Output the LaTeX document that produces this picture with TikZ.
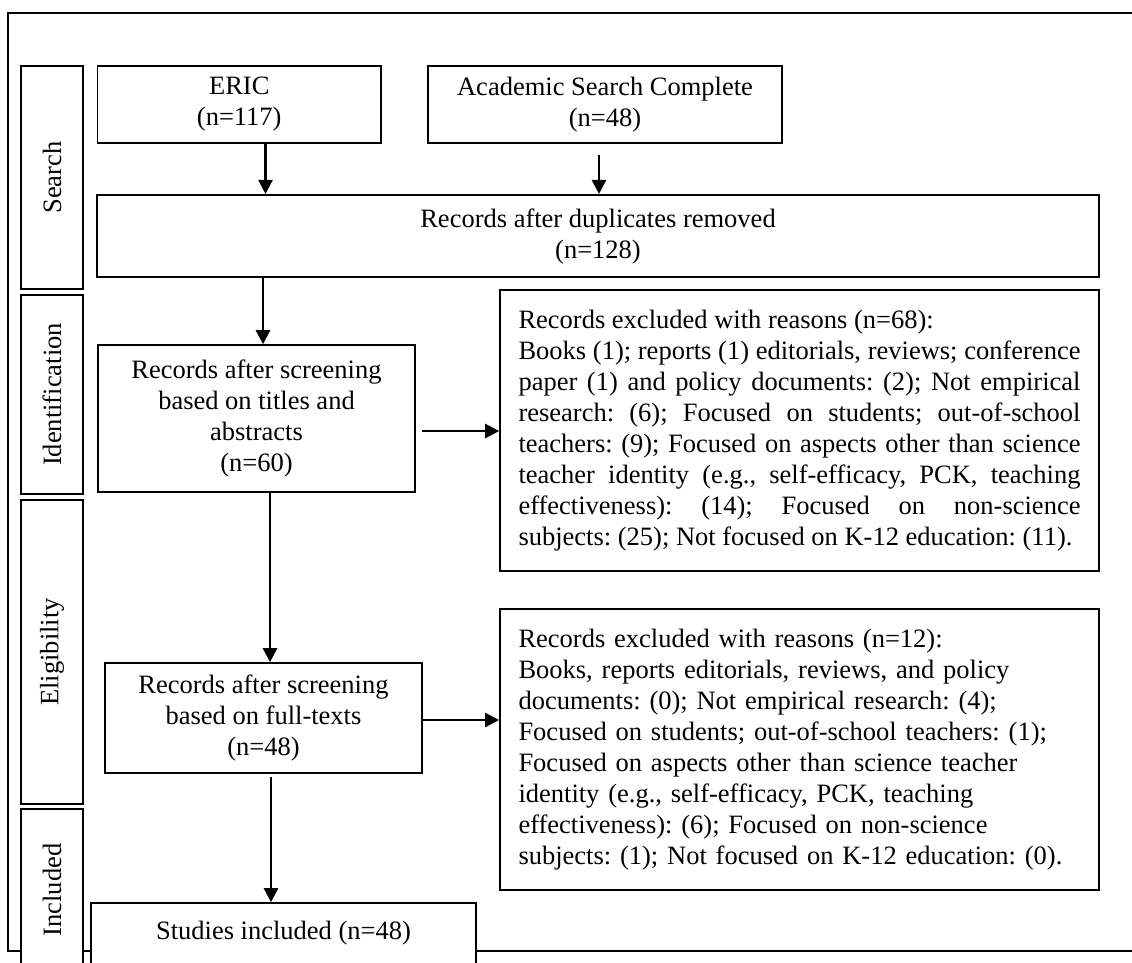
\documentclass[tikz,border=0pt]{standalone}
\usepackage{fontspec}
\setmainfont{Liberation Serif}
\usepackage{tikz}
\usetikzlibrary{arrows.meta,positioning,calc}

\newcommand\flowfont{\fontsize{26.5}{31}\selectfont}
\hyphenpenalty=10000
\exhyphenpenalty=10000
\frenchspacing

\tikzset{
  frame/.style={line width=1.8pt},
  stage/.style={draw, line width=1.2pt, fill=white, rotate=90, inner sep=0pt, minimum height=62pt, font=\flowfont},
  box/.style={draw, line width=1.6pt, fill=white, align=center, inner sep=0pt, font=\flowfont},
  note/.style={box, text width=562pt},
  arr/.style={-{Triangle[length=14pt,width=14pt]}, line width=2.4pt},
}

\begin{document}
\begin{tikzpicture}[x=1pt, y=-1pt]
\useasboundingbox (0,0) rectangle (1132,962);
\clip (0,0) rectangle (1132,962);

% outer frame
\draw[frame] (1140,13) -- (8,13) -- (8,951) -- (1140,951);

% stages
\node[stage, minimum width=223pt] (search) at (52,177.5) {Search};
\node[stage, minimum width=199pt] (ident) at (52,394.5) {Identification};
\node[stage, minimum width=304pt] (elig) at (52,652) {Eligibility};
\node[stage, minimum width=162pt] (incl) at (52,890) {Included};

% flow boxes
\node[box, minimum width=283.5pt, minimum height=77pt] (eric) at (239.25,104.5) {ERIC\\(n=117)};
\node[box, minimum width=354pt, minimum height=77pt] (acad) at (605,104.5) {Academic Search Complete\\(n=48)};
\node[box, minimum width=1002pt, minimum height=82.5pt] (dup) at (598,236) {Records after duplicates removed\\(n=128)};
\node[box, minimum width=317pt, minimum height=147pt] (titles) at (256.5,418.5) {Records after screening\\based on titles and\\abstracts\\(n=60)};
\node[box, minimum width=317pt, minimum height=110pt] (full) at (263.5,718) {Records after screening\\based on full-texts\\(n=48)};
\node[box, minimum width=385pt, minimum height=61pt] (studies) at (283.5,933.5) {Studies included (n=48)};

% exclusion notes
\node[note, align=justify, minimum width=599pt, minimum height=281pt] (excl1) at (799.5,430.5) {Records excluded with reasons (n=68):\\
Books (1); reports (1) editorials, reviews; conference\linebreak
paper (1) and policy documents: (2); Not empirical\linebreak
research: (6); Focused on students; out-of-school\linebreak
teachers: (9); Focused on aspects other than science\linebreak
teacher identity (e.g., self-efficacy, PCK, teaching\linebreak
effectiveness): (14); Focused on non-science\linebreak
subjects: (25); Not focused on K-12 education: (11).};
\node[note, align=left, minimum width=599pt, minimum height=281pt] (excl2) at (799.5,749.5) {Records excluded with reasons (n=12):\\
Books, reports editorials, reviews, and policy\\
documents: (0); Not empirical research: (4);\\
Focused on students; out-of-school teachers: (1);\\
Focused on aspects other than science teacher\\
identity (e.g., self-efficacy, PCK, teaching\\
effectiveness): (6); Focused on non-science\\
subjects: (1); Not focused on K-12 education: (0).};

% arrows
\draw[arr] ([xshift=26.25pt]eric.south) -- ([xshift=26.25pt]eric.south |- dup.north);
\draw[arr] ([xshift=-6pt,yshift=-11pt]acad.south) -- ([xshift=-6pt]acad.south |- dup.north);
\draw[arr] ([xshift=6.5pt]titles.north |- dup.south) -- ([xshift=6.5pt]titles.north);
\draw[arr] ([xshift=6pt,yshift=-12.5pt]titles.east) -- ([yshift=-12.5pt]titles.east -| excl1.west);
\draw[arr] ([xshift=13.5pt]titles.south) -- ([xshift=13.5pt]titles.south |- full.north);
\draw[arr] ([yshift=-2pt]full.east) -- ([yshift=-2pt]full.east -| excl2.west);
\draw[arr] ([xshift=7.5pt,yshift=-3pt]full.south) -- ([xshift=7.5pt]full.south |- studies.north);
\end{tikzpicture}
\end{document}
